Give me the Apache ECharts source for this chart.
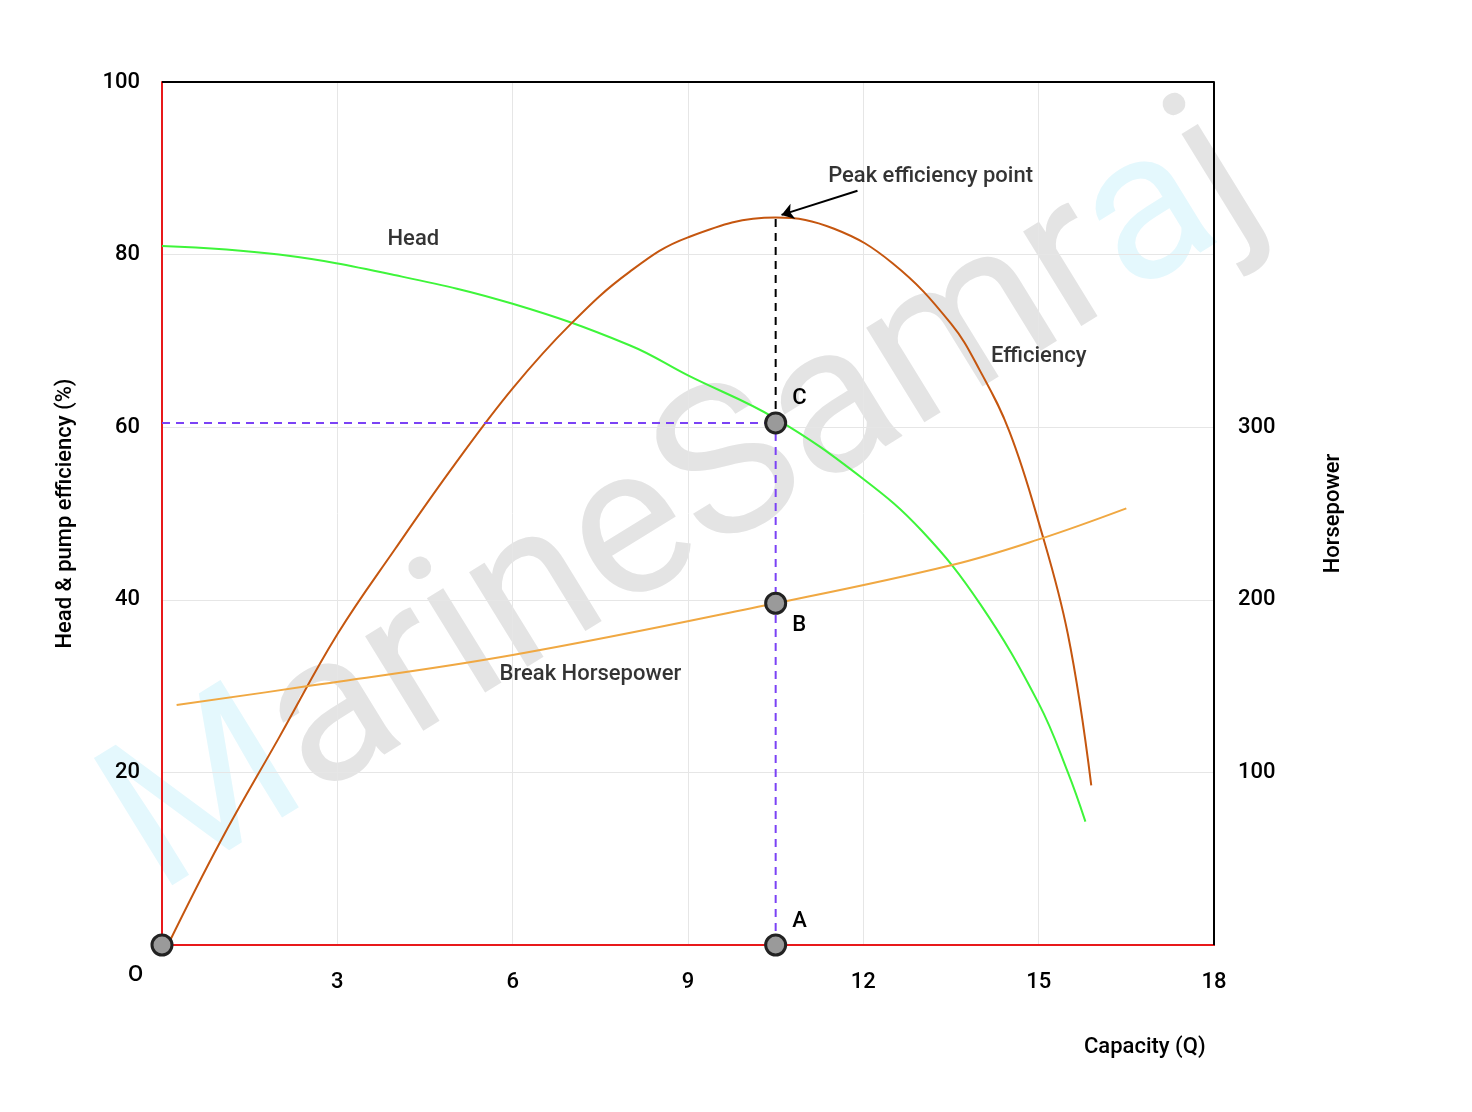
<!DOCTYPE html>
<html><head><meta charset="utf-8">
<script src="https://cdn.jsdelivr.net/npm/echarts@6/dist/echarts.min.js"></script>
<style>body{margin:0}#c{width:1472px;height:1112px}</style></head>
<body><div id="c"></div>
<script>
const headX = [0, 2, 4, 6, 8, 9, 10.5, 12, 13, 14, 15, 15.5, 15.8];
const headY = [81, 80, 77.6, 74.3, 69.5, 66, 61, 54, 48, 39.5, 28, 20, 14.3];
const effX = [0.1, 1, 2, 3, 4, 5, 6, 7, 8, 9, 10.5, 11.5, 12.5, 13.5, 14, 14.5, 15, 15.5, 15.9];
const effY = [0, 12, 24, 36, 46, 55.6, 64.5, 72, 78, 82, 84.3, 83, 79, 72, 66.5, 59.5, 49, 36, 18.5];
const bhpX = [0.25, 2.5, 6, 10.5, 13.5, 15, 16.5];
const bhpY = [139, 150, 168, 198, 220, 235, 253];
const points = [[0,0,'O'],[10.5,0,'A'],[10.5,39.6,'B'],[10.5,60.5,'C']];
const notes = [[4.3,81.7,'Head'],[15,68.2,'Efficiency'],[13.15,89.1,'Peak efficiency point'],[7.33,31.3,'Break Horsepower']];
const xTicks = [3,6,9,12,15,18];
const leftTicks = [20,40,60,80,100];
const rightTicks = [100,200,300];
const zip=(a,b)=>a.map((v,i)=>[v,b[i]]);
const font='Roboto';
const chart = echarts.init(document.getElementById('c'));
chart.setOption({
  animation:false,
  textStyle:{fontFamily:font},
  grid:{left:162,right:258,top:82,bottom:167},
  graphic:[{type:'text',z:-1,rotation:31.6*Math.PI/180,x:75,y:760,silent:true,
    style:{text:'{c|M}{g|arineSamr}{c|a}{g|j}',rich:{c:{fill:'#e4f8fd',fontSize:210,fontFamily:font},g:{fill:'#e4e4e4',fontSize:210,fontFamily:font}}}},
   {type:'text',x:1084,y:1036,style:{text:'Capacity (Q)',fontSize:22,fontWeight:500,fontFamily:font,fill:'#000'}},
   {type:'text',x:128,y:964,style:{text:'O',fontSize:22,fontWeight:500,fontFamily:font,fill:'#000'}}],
  xAxis:{type:'value',min:0,max:18,interval:3,
    axisLine:{onZero:false,lineStyle:{color:'#e8191b',width:2}},axisTick:{show:false},
    axisLabel:{fontSize:22,fontWeight:500,color:'#000',margin:26,formatter:v=>xTicks.includes(v)?String(v):''},
    splitLine:{lineStyle:{color:'#e6e6e6'}}},
  yAxis:[{type:'value',min:0,max:100,interval:20,name:'Head & pump efficiency (%)',nameLocation:'middle',nameGap:86,
    nameTextStyle:{fontSize:22,fontWeight:500,color:'#000'},
    axisLine:{show:true,lineStyle:{color:'#e8191b',width:2}},axisTick:{show:false},
    axisLabel:{fontSize:22,fontWeight:500,color:'#000',margin:22,formatter:v=>leftTicks.includes(v)?String(v):''},
    splitLine:{lineStyle:{color:'#e6e6e6'}}},
   {type:'value',min:0,max:500,interval:100,position:'right',name:'Horsepower',nameLocation:'middle',nameGap:108,
    nameTextStyle:{fontSize:22,fontWeight:500,color:'#000'},
    axisLine:{show:true,lineStyle:{color:'#000',width:2}},axisTick:{show:false},
    axisLabel:{fontSize:22,fontWeight:500,color:'#000',margin:24,formatter:v=>rightTicks.includes(v)?String(v):''},
    splitLine:{show:false}}],
  series:[
   {type:'line',data:[[0,100],[18,100]],symbol:'none',lineStyle:{color:'#000',width:2},silent:true},
   {type:'line',data:[[18,0],[18,100]],symbol:'none',lineStyle:{color:'#000',width:2},silent:true},
   {type:'line',data:zip(headX,headY),smooth:0.4,symbol:'none',lineStyle:{color:'#3ef53a',width:2}},
   {type:'line',data:zip(effX,effY),smooth:0.4,symbol:'none',lineStyle:{color:'#c5560f',width:2},
    markLine:{silent:true,symbol:['none','arrow'],symbolSize:12,label:{show:false},lineStyle:{color:'#000',type:'solid',width:2},
      data:[[{coord:[11.9,87.4]},{coord:[10.6,84.6]}]]}},
   {type:'line',yAxisIndex:1,data:zip(bhpX,bhpY),smooth:0.4,symbol:'none',lineStyle:{color:'#f0a842',width:2}},
   {type:'line',data:[[0,60.5],[10.5,60.5]],symbol:'none',lineStyle:{color:'#7b42f5',type:[8,6],width:2}},
   {type:'line',data:[[10.5,0],[10.5,60.5]],symbol:'none',lineStyle:{color:'#7b42f5',type:[8,6],width:2}},
   {type:'line',data:[[10.5,60.5],[10.5,84.3]],symbol:'none',lineStyle:{color:'#000',type:[8,6],width:2}},
   {type:'scatter',data:notes.map(n=>({value:[n[0],n[1]],name:n[2]})),symbolSize:1,itemStyle:{color:'rgba(0,0,0,0)'},
    label:{show:true,position:'inside',formatter:p=>p.name,fontSize:22,fontWeight:500,color:'#000'},silent:true},
   {type:'scatter',data:points.map(p=>({value:[p[0],p[1]],name:p[2]})),symbolSize:20,z:10,
    itemStyle:{color:'#9a9a9a',borderColor:'#222',borderWidth:3,opacity:1},
    label:{show:true,formatter:p=>p.name==='O'?'':p.name,fontSize:22,fontWeight:500,color:'#000',position:'right'},
    labelLayout:p=>{const n=points[p.dataIndex][2];return n==='B'?{dy:22}:{dy:-24};}}
  ]
});
</script></body></html>
